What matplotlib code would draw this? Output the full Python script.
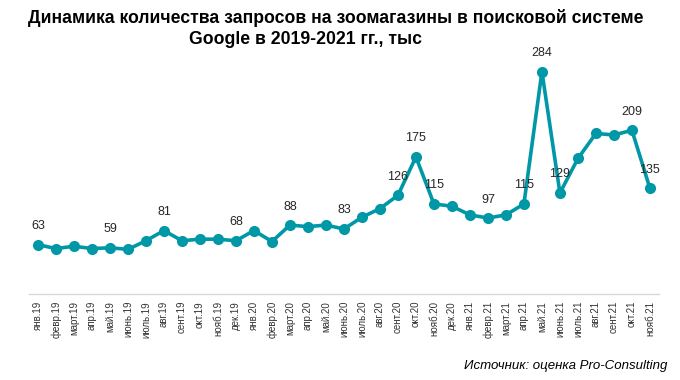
import matplotlib
matplotlib.use("Agg")
import matplotlib.pyplot as plt

plt.rcParams['font.family'] = ['Liberation Sans', 'DejaVu Sans']

# месяцы
months = ['янв.19', 'февр.19', 'март.19', 'апр.19', 'май.19', 'июнь.19', 'июль.19',
          'авг.19', 'сент.19', 'окт.19', 'нояб.19', 'дек.19',
          'янв.20', 'февр.20', 'март.20', 'апр.20', 'май.20', 'июнь.20', 'июль.20',
          'авг.20', 'сент.20', 'окт.20', 'нояб.20', 'дек.20',
          'янв.21', 'февр.21', 'март.21', 'апр.21', 'май.21', 'июнь.21', 'июль.21',
          'авг.21', 'сент.21', 'окт.21', 'нояб.21']

# количество запросов, тыс
values = [63, 58, 61, 58, 59, 57, 68, 81, 68, 70, 70, 68,
          81, 67, 88, 86, 88, 83, 98, 109, 126, 175, 115, 112,
          101, 97, 101, 115, 284, 129, 173, 205, 203, 209, 135]

# какие точки подписаны
labeled = [0, 4, 7, 11, 14, 17, 20, 21, 22, 25, 27, 28, 29, 33, 34]

color = '#0098A6'

fig = plt.figure(figsize=(6.8, 3.8), dpi=100)
ax = fig.add_axes([0.0426, 0.2263, 0.9264, 0.6184])

x = list(range(len(months)))
ax.plot(x, values, color=color, linewidth=2.6, marker='o', markersize=8,
        markeredgewidth=0, solid_joinstyle='round')

for i in labeled:
    ax.annotate(str(values[i]), (i, values[i]), xytext=(0, 9),
                textcoords='offset points', ha='center', va='bottom',
                fontsize=9, color='#262626')

ax.set_xlim(-0.5, len(months) - 0.5)
ax.set_ylim(0, 300)
ax.set_xticks(x)
ax.set_xticklabels(months, rotation=90, fontsize=7, color='#333333')
ax.tick_params(axis='x', length=0, pad=5)
ax.set_yticks([])
for s in ['top', 'right', 'left']:
    ax.spines[s].set_visible(False)
ax.spines['bottom'].set_color('#D9D9D9')
ax.spines['bottom'].set_linewidth(1)

fig.text(0.494, 0.952, 'Динамика количества запросов на зоомагазины в поисковой системе',
         ha='center', va='center', fontsize=12.7, fontweight='bold', color='#000000')
fig.text(0.449, 0.895, 'Google в 2019-2021 гг., тыс',
         ha='center', va='center', fontsize=12.7, fontweight='bold', color='#000000')

fig.text(0.982, 0.038, 'Источник: оценка Pro-Consulting', ha='right', va='center',
         fontsize=9.5, style='italic', color='#000000')

fig.savefig('out.png', dpi=100)
